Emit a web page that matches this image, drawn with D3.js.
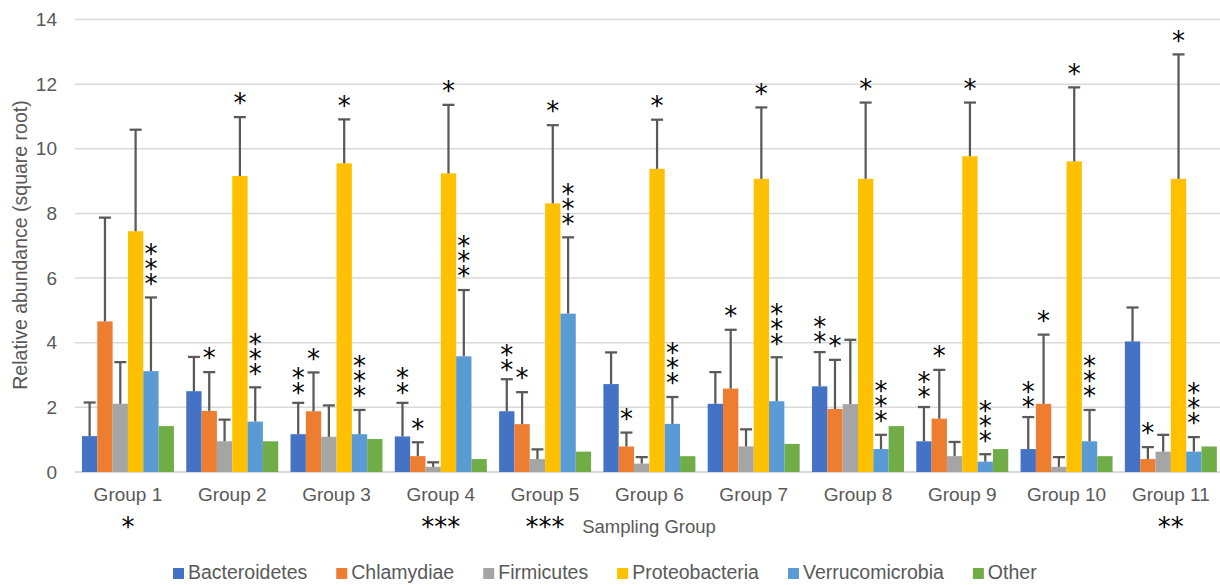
<!DOCTYPE html>
<html>
<head>
<meta charset="utf-8">
<script src="https://cdn.jsdelivr.net/npm/d3@7"></script>
<style>
  body { margin: 0; background: #fff; }
  text { font-family: "Liberation Sans", Arial, sans-serif; }
</style>
</head>
<body>
<div id="chart"></div>
<script>

var groups = ["Group 1", "Group 2", "Group 3", "Group 4", "Group 5", "Group 6", "Group 7", "Group 8", "Group 9", "Group 10", "Group 11"];
var phyla = ["Bacteroidetes", "Chlamydiae", "Firmicutes", "Proteobacteria", "Verrucomicrobia", "Other"];
var colors = ["#4472c4", "#ed7d31", "#a5a5a5", "#ffc000", "#5b9bd5", "#70ad47"];
var yTicks = [0, 2, 4, 6, 8, 10, 12, 14];

// mean relative abundance (square root)
var bacteroidetes   = [1.11, 2.50, 1.17, 1.10, 1.88, 2.72, 2.11, 2.65, 0.95, 0.71, 4.04];
var chlamydiae      = [4.66, 1.89, 1.88, 0.49, 1.48, 0.79, 2.58, 1.95, 1.65, 2.11, 0.40];
var firmicutes      = [2.11, 0.95, 1.09, 0.16, 0.40, 0.26, 0.79, 2.10, 0.49, 0.16, 0.63];
var proteobacteria  = [7.45, 9.16, 9.55, 9.24, 8.31, 9.38, 9.07, 9.07, 9.77, 9.61, 9.07];
var verrucomicrobia = [3.12, 1.56, 1.17, 3.58, 4.90, 1.49, 2.19, 0.71, 0.32, 0.95, 0.63];
var other           = [1.42, 0.95, 1.02, 0.40, 0.63, 0.49, 0.87, 1.42, 0.71, 0.49, 0.79];

// standard deviation (upper error bar only)
var bacteroidetesSd   = [1.04, 1.06, 0.97, 1.04, 0.99, 0.98, 0.98, 1.06, 1.06, 0.99, 1.05];
var chlamydiaeSd      = [3.21, 1.20, 1.20, 0.43, 0.99, 0.43, 1.82, 1.52, 1.51, 2.14, 0.37];
var firmicutesSd      = [1.29, 0.67, 0.97, 0.14, 0.30, 0.20, 0.53, 1.99, 0.44, 0.30, 0.52];
var proteobacteriaSd  = [3.14, 1.82, 1.36, 2.12, 2.42, 1.52, 2.21, 2.36, 1.66, 2.29, 3.85];
var verrucomicrobiaSd = [2.28, 1.06, 0.75, 2.05, 2.36, 0.83, 1.36, 0.44, 0.23, 0.97, 0.45];
var otherSd           = [null, null, null, null, null, null, null, null, null, null, null];

// number of significance stars stacked above each bar
var bacteroidetesStars   = [0, 0, 2, 2, 2, 0, 0, 2, 2, 2, 0];
var chlamydiaeStars      = [0, 1, 1, 1, 1, 1, 1, 1, 1, 1, 1];
var firmicutesStars      = [0, 0, 0, 0, 0, 0, 0, 0, 0, 0, 0];
var proteobacteriaStars  = [0, 1, 1, 1, 1, 1, 1, 1, 1, 1, 1];
var verrucomicrobiaStars = [3, 3, 3, 3, 3, 3, 3, 3, 3, 3, 3];
var otherStars           = [0, 0, 0, 0, 0, 0, 0, 0, 0, 0, 0];
// stars written under the group labels
var groupStars = [1, 0, 0, 3, 3, 0, 0, 0, 0, 0, 2];

var means = [bacteroidetes, chlamydiae, firmicutes, proteobacteria, verrucomicrobia, other];
var sds = [bacteroidetesSd, chlamydiaeSd, firmicutesSd, proteobacteriaSd, verrucomicrobiaSd, otherSd];
var stars = [bacteroidetesStars, chlamydiaeStars, firmicutesStars, proteobacteriaStars, verrucomicrobiaStars, otherStars];

var rows = [];
groups.forEach(function(g, gi) {
    phyla.forEach(function(p, pi) {
        rows.push({group: g, phylum: p, pi: pi, value: means[pi][gi], sd: sds[pi][gi], stars: stars[pi][gi]});
    });
});

var width = 1220, height = 585;

var svg = d3.select("#chart")
            .append("svg")
            .attr("width", width)
            .attr("height", height)

var x0 = d3.scaleBand()
    .domain(groups)
    .range([75.8, 1223])
    .paddingInner(0.118)
    .paddingOuter(0.059)

var x1 = d3.scaleBand()
    .domain(phyla)
    .range([0, x0.bandwidth()])

var y = d3.scaleLinear()
    .domain([0, 14])
    .range([472, 19.5])

// gridlines
svg.append("g")
    .selectAll("line")
    .data(yTicks)
    .enter()
    .append("line")
    .attr("x1", 75)
    .attr("x2", width)
    .attr("y1", function(d) { return y(d) })
    .attr("y2", function(d) { return y(d) })
    .style("stroke", "#d9d9d9")
    .style("stroke-width", function(d) { return d == 0 ? 2 : 1.5 })

// y tick labels
svg.append("g")
    .selectAll("text")
    .data(yTicks)
    .enter()
    .append("text")
    .attr("x", 57)
    .attr("y", function(d) { return y(d) })
    .attr("dy", "0.35em")
    .attr("text-anchor", "end")
    .style("font-size", "19px")
    .style("fill", "#595959")
    .text(function(d) { return d })

// bars
var bars = svg.append("g")
    .selectAll("g")
    .data(rows)
    .enter()
    .append("g")
    .attr("transform", function(d) { return "translate(" + (x0(d.group) + x1(d.phylum)) + ",0)" })

bars.append("rect")
    .attr("x", 0)
    .attr("y", function(d) { return y(d.value) })
    .attr("width", x1.bandwidth())
    .attr("height", function(d) { return y(0) - y(d.value) })
    .style("fill", function(d) { return colors[d.pi] })

// error bars
var errs = bars.filter(function(d) { return d.sd != null })
var bw = x1.bandwidth()

errs.append("line")
    .attr("x1", bw / 2)
    .attr("x2", bw / 2)
    .attr("y1", function(d) { return y(d.value) })
    .attr("y2", function(d) { return y(d.value + d.sd) })
    .style("stroke", "#595959")
    .style("stroke-width", 2.25)

errs.append("line")
    .attr("x1", bw / 2 - 6)
    .attr("x2", bw / 2 + 6)
    .attr("y1", function(d) { return y(d.value + d.sd) })
    .attr("y2", function(d) { return y(d.value + d.sd) })
    .style("stroke", "#595959")
    .style("stroke-width", 2.25)

// significance stars above bars, one text per stack
var starSize = 26
bars.filter(function(d) { return d.stars > 0 })
    .each(function(d) {
        var top = y(d.value + (d.sd || 0))
        var gap = d.pi == 0 ? 15 : 19
        var firstY = top - gap - (d.stars - 1) * 15 + starSize * 0.55
        var t = d3.select(this).append("text")
            .attr("class", "star")
            .attr("text-anchor", "middle")
            .style("font-family", "DejaVu Sans")
            .style("font-size", starSize + "px")
            .style("fill", "#000")
        for (var k = 0; k < d.stars; k++) {
            t.append("tspan")
                .attr("x", bw / 2)
                .attr("y", firstY + k * 15)
                .text("*")
        }
    })

// x labels
svg.append("g")
    .selectAll("text")
    .data(groups)
    .enter()
    .append("text")
    .attr("x", function(d) { return x0(d) + x0.bandwidth() / 2 })
    .attr("y", 501)
    .attr("text-anchor", "middle")
    .style("font-size", "19px")
    .style("fill", "#595959")
    .text(function(d) { return d })

// stars under the group labels
svg.append("g")
    .selectAll("text")
    .data(groups.filter(function(d, i) { return groupStars[i] > 0 }))
    .enter()
    .append("text")
    .attr("x", function(d) { return x0(d) + x0.bandwidth() / 2 })
    .attr("y", 522 + starSize * 0.55)
    .attr("text-anchor", "middle")
    .style("font-family", "DejaVu Sans")
    .style("font-size", starSize + "px")
    .style("fill", "#000")
    .text(function(d) { return "*".repeat(groupStars[groups.indexOf(d)]) })

// axis titles
svg.append("text")
    .attr("x", 649)
    .attr("y", 533)
    .attr("text-anchor", "middle")
    .style("font-size", "18.5px")
    .style("fill", "#595959")
    .text("Sampling Group")

svg.append("text")
    .attr("transform", "translate(27,245) rotate(-90)")
    .attr("text-anchor", "middle")
    .style("font-size", "19.5px")
    .style("fill", "#595959")
    .text("Relative abundance (square root)")

// legend
var legend = svg.append("g")
var lx = 173
phyla.forEach(function(p, i) {
    legend.append("rect")
        .attr("x", lx)
        .attr("y", 568)
        .attr("width", 11)
        .attr("height", 11)
        .style("fill", colors[i])
    var t = legend.append("text")
        .attr("x", lx + 15)
        .attr("y", 579)
        .style("font-size", "19.5px")
        .style("fill", "#595959")
        .text(p)
    lx = lx + 15 + t.node().getComputedTextLength() + 29
})

</script>
</body>
</html>
